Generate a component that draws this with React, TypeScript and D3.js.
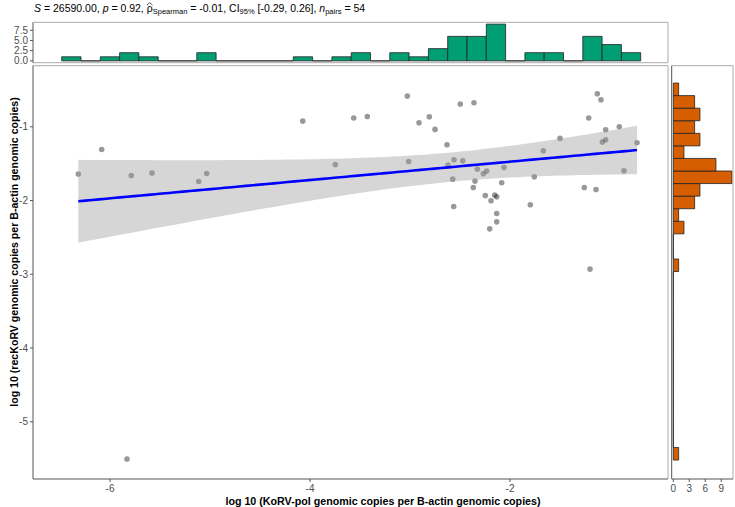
import React, { useLayoutEffect, useRef, useState } from "react";
import * as d3 from "d3";

// log10 KoRV-pol copies per B-actin copies
const xValues = [
  -6.317, -6.083, -5.787, -5.58, -5.113, -5.033, -4.073, -3.747, -3.563, -3.427,
  -5.83, -3.027, -3.013, -2.91, -2.807, -2.75, -2.63, -2.56, -2.62, -2.573,
  -2.563, -2.497, -2.36, -2.473, -2.327, -2.35, -2.367, -2.267, -2.233, -2.247,
  -2.19, -2.153, -2.133, -2.133, -2.133, -2.203, -2.083, -2.06, -1.797, -1.757,
  -1.667, -1.5, -1.257, -1.213, -1.127, -1.09, -1.14, -1.043, -1.043, -1.077,
  -0.907, -0.73, -0.86, -1.2,
];
// log10 recKoRV copies per B-actin copies
const yValues = [
  -1.642, -1.308, -1.661, -1.628, -1.742, -1.634, -0.923, -1.511, -0.882, -0.86,
  -5.505, -0.584, -1.471, -0.946, -0.864, -1.036, -1.244, -1.448, -1.52, -1.71,
  -2.081, -0.692, -0.674, -1.461, -1.574, -1.737, -1.823, -1.638, -1.601, -1.932,
  -2.004, -1.927, -1.95, -2.176, -2.289, -2.384, -1.76, -1.552, -2.058, -1.678,
  -1.326, -1.158, -1.823, -0.882, -0.552, -0.634, -1.85, -1.041, -1.176, -1.208,
  -1.0, -1.217, -1.597, -2.93,
];

// marginal histogram of x (30 bins, left to right)
const xHistCounts = [1, 0, 1, 2, 1, 0, 0, 2, 0, 0, 0, 0, 1, 0, 1, 2, 0, 2, 1, 3, 6, 6, 9, 0, 2, 2, 0, 6, 4, 2];
const xHistStart = -6.483;
const xHistBinWidth = 0.193;

// marginal histogram of y (30 bins, lowest bin first)
const yHistCounts = [1, 0, 0, 0, 0, 0, 0, 0, 0, 0, 0, 0, 0, 0, 0, 1, 0, 0, 2, 1, 4, 5, 11, 8, 2, 5, 4, 5, 4, 1];
const yHistStart = -5.519;
const yHistBinWidth = 0.1704;

const xTicks = [-6, -4, -2];
const yTicks = [-5, -4, -3, -2, -1];
const xHistCountTicks = [0, 2.5, 5, 7.5];
const yHistCountTicks = [0, 3, 6, 9];

const T_975_DF52 = 2.0066;

const W = 735;
const H = 507;
const mainL = 33;
const mainR = 668;
const mainT = 65.7;
const mainB = 479;
const topT = 22.3;
const topB = 62.7;
const rightL = 671.7;
const rightR = 733;

const FONT = "'Liberation Sans', Arial, Helvetica, sans-serif";
const AXIS_DARK = "#555555";
const BORDER = "#ababab";
const TICK_TEXT = "#4d4d4d";

function linearFit(xs: number[], ys: number[]) {
  const n = xs.length;
  const mx = d3.mean(xs) as number;
  const my = d3.mean(ys) as number;
  let sxx = 0;
  let sxy = 0;
  for (let i = 0; i < n; i++) {
    sxx += (xs[i] - mx) ** 2;
    sxy += (xs[i] - mx) * (ys[i] - my);
  }
  const slope = sxy / sxx;
  const intercept = my - slope * mx;
  let sse = 0;
  for (let i = 0; i < n; i++) sse += (ys[i] - (intercept + slope * xs[i])) ** 2;
  const s = Math.sqrt(sse / (n - 2));
  return { n, mx, sxx, slope, intercept, s };
}

export default function App() {
  const rhoRef = useRef<SVGTSpanElement | null>(null);
  const [hat, setHat] = useState<{ x0: number; x1: number } | null>(null);

  useLayoutEffect(() => {
    const el = rhoRef.current;
    if (!el) return;
    try {
      const a = el.getStartPositionOfChar(0);
      const b = el.getEndPositionOfChar(0);
      setHat({ x0: a.x, x1: b.x });
    } catch (e) {
      setHat(null);
    }
  }, []);

  const x = d3.scaleLinear().domain([-6.77, -0.42]).range([mainL, mainR]);
  const y = d3.scaleLinear().domain([-5.776, -0.172]).range([mainB, mainT]);

  const xMaxCount = d3.max(xHistCounts) as number;
  const yMaxCount = d3.max(yHistCounts) as number;
  const topCount = d3
    .scaleLinear()
    .domain([-0.05 * xMaxCount, xMaxCount * 1.05])
    .range([topB, topT]);
  const rightCount = d3
    .scaleLinear()
    .domain([-0.3, yMaxCount + 0.2])
    .range([rightL, rightR]);

  const fit = linearFit(xValues, yValues);
  const [xmin, xmax] = d3.extent(xValues) as [number, number];
  const grid = d3.range(0, 81).map((i) => xmin + ((xmax - xmin) * i) / 80);
  const band = grid.map((gx) => {
    const yhat = fit.intercept + fit.slope * gx;
    const se = fit.s * Math.sqrt(1 / fit.n + (gx - fit.mx) ** 2 / fit.sxx);
    return { gx, yhat, lo: yhat - T_975_DF52 * se, hi: yhat + T_975_DF52 * se };
  });
  const areaPath = d3
    .area<{ gx: number; lo: number; hi: number }>()
    .x((d) => x(d.gx))
    .y0((d) => y(d.lo))
    .y1((d) => y(d.hi))(band) as string;
  const linePath = d3
    .line<{ gx: number; yhat: number }>()
    .x((d) => x(d.gx))
    .y((d) => y(d.yhat))(band) as string;

  const topBars = xHistCounts.map((c, i) => {
    const x0 = x(xHistStart + i * xHistBinWidth);
    const x1 = x(xHistStart + (i + 1) * xHistBinWidth);
    const y0 = topCount(0);
    const y1 = topCount(c);
    return `M${x0},${y0}V${y1}H${x1}V${y0}Z`;
  });
  const rightBars = yHistCounts.map((c, i) => {
    const y0 = y(yHistStart + i * yHistBinWidth);
    const y1 = y(yHistStart + (i + 1) * yHistBinWidth);
    const x0 = rightCount(0);
    const x1 = rightCount(c);
    return `M${x0},${y0}H${x1}V${y1}H${x0}Z`;
  });

  return (
    <svg
      width={W}
      height={H}
      viewBox={`0 0 ${W} ${H}`}
      style={{ position: "absolute", left: 0, top: 0, background: "#fff" }}
      fontFamily={FONT}
    >
      <rect x={0} y={0} width={W} height={H} fill="#fff" />

      {/* statistics header */}
      <text x={34} y={11.5} fontSize={10.5} fill="#000">
        <tspan fontStyle="italic">S</tspan>
        <tspan> = 26590.00, </tspan>
        <tspan fontStyle="italic">p</tspan>
        <tspan> = 0.92, </tspan>
        <tspan ref={rhoRef}>ρ</tspan>
        <tspan fontSize={7.5} dy={2.5}>Spearman</tspan>
        <tspan dy={-2.5}> = -0.01, CI</tspan>
        <tspan fontSize={7.5} dy={2.5}>95%</tspan>
        <tspan dy={-2.5}> [-0.29, 0.26], </tspan>
        <tspan fontStyle="italic">n</tspan>
        <tspan fontSize={7.5} dy={2.5}>pairs</tspan>
        <tspan dy={-2.5}> = 54</tspan>
      </text>
      {hat && (
        <path
          d={`M${hat.x0 + 0.2},5.2L${(hat.x0 + hat.x1) / 2},2.6L${hat.x1 - 0.2},5.2`}
          fill="none"
          stroke="#000"
          strokeWidth={0.7}
        />
      )}

      {/* top marginal histogram */}
      <g>
        {topBars.map((d, i) => (
          <path key={i} d={d} fill="#009E73" stroke="#222" strokeWidth={0.8} />
        ))}
        <line x1={mainL} x2={mainR} y1={topT} y2={topT} stroke={BORDER} />
        <line x1={mainR} x2={mainR} y1={topT} y2={topB} stroke={BORDER} />
        <line x1={mainL} x2={mainR} y1={topB} y2={topB} stroke={BORDER} />
        <line x1={mainL} x2={mainL} y1={topT} y2={topB} stroke={AXIS_DARK} />
        {xHistCountTicks.map((t) => (
          <g key={t}>
            <line x1={mainL - 3} x2={mainL} y1={topCount(t)} y2={topCount(t)} stroke={AXIS_DARK} />
            <text x={mainL - 5} y={topCount(t)} dy="0.35em" textAnchor="end" fontSize={10} fill={TICK_TEXT}>
              {t.toFixed(1)}
            </text>
          </g>
        ))}
      </g>

      {/* scatter panel */}
      <g>
        {xValues.map((xv, i) => (
          <circle key={i} cx={x(xv)} cy={y(yValues[i])} r={2.8} fill="#000" fillOpacity={0.4} />
        ))}
        <path d={areaPath} fill="#999999" fillOpacity={0.4} />
        <path d={linePath} fill="none" stroke="#0000ff" strokeWidth={2.6} />
        <line x1={mainL} x2={mainR} y1={mainT} y2={mainT} stroke={BORDER} />
        <line x1={mainR} x2={mainR} y1={mainT} y2={mainB} stroke={BORDER} />
        <line x1={mainL} x2={mainL} y1={mainT} y2={mainB} stroke={AXIS_DARK} />
        <line x1={mainL} x2={mainR} y1={mainB} y2={mainB} stroke={AXIS_DARK} />
        {yTicks.map((t) => (
          <g key={t}>
            <line x1={mainL - 3} x2={mainL} y1={y(t)} y2={y(t)} stroke={AXIS_DARK} />
            <text x={mainL - 5} y={y(t)} dy="0.35em" textAnchor="end" fontSize={10} fill={TICK_TEXT}>
              {t}
            </text>
          </g>
        ))}
        {xTicks.map((t) => (
          <g key={t}>
            <line x1={x(t)} x2={x(t)} y1={mainB} y2={mainB + 3} stroke={AXIS_DARK} />
            <text x={x(t)} y={mainB + 13} textAnchor="middle" fontSize={10} fill={TICK_TEXT}>
              {t}
            </text>
          </g>
        ))}
      </g>

      {/* right marginal histogram */}
      <g>
        {rightBars.map((d, i) => (
          <path key={i} d={d} fill="#D55E00" stroke="#222" strokeWidth={0.8} />
        ))}
        <line x1={rightL} x2={rightR} y1={mainT} y2={mainT} stroke={BORDER} />
        <line x1={rightR} x2={rightR} y1={mainT} y2={mainB} stroke={BORDER} />
        <line x1={rightL} x2={rightL} y1={mainT} y2={mainB} stroke={AXIS_DARK} />
        <line x1={rightL} x2={rightR} y1={mainB} y2={mainB} stroke={AXIS_DARK} />
        {yHistCountTicks.map((t) => (
          <g key={t}>
            <line x1={rightCount(t)} x2={rightCount(t)} y1={mainB} y2={mainB + 3} stroke={AXIS_DARK} />
            <text x={rightCount(t)} y={mainB + 13} textAnchor="middle" fontSize={10} fill={TICK_TEXT}>
              {t}
            </text>
          </g>
        ))}
      </g>

      {/* axis titles */}
      <text
        x={(mainL + rightR) / 2}
        y={504.5}
        textAnchor="middle"
        fontSize={10.7}
        fontWeight="bold"
        fill="#000"
      >
        log 10 (KoRV-pol genomic copies per B-actin genomic copies)
      </text>
      <text
        transform={`translate(17.8,252) rotate(-90)`}
        textAnchor="middle"
        fontSize={10.6}
        fontWeight="bold"
        fill="#000"
      >
        log 10 (recKoRV genomic copies per B-actin genomic copies)
      </text>
    </svg>
  );
}
